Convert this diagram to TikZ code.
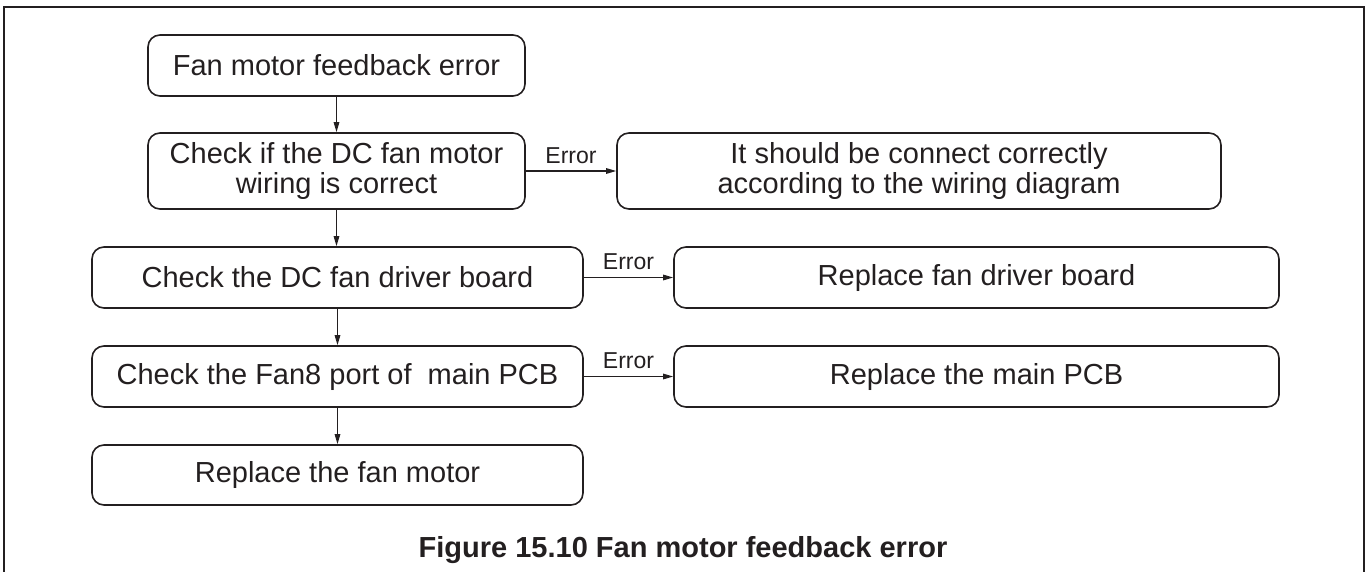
\documentclass[tikz,border=0pt]{standalone}
\usepackage{fontspec}
\setmainfont{Liberation Sans}
\usetikzlibrary{arrows.meta}
\definecolor{ink}{HTML}{231F20}
\begin{document}
\begin{tikzpicture}[x=1pt,y=-1pt,
  box/.style={draw=ink, line width=1.6pt, rounded corners=12pt, align=center,
    inner sep=0pt, text=ink, font=\fontsize{29}{30}\selectfont},
  flow/.style={draw=ink, line width=1.3pt, -{Triangle[length=10pt,width=5.5pt]}},
  lbl/.style={text=ink, font=\fontsize{23}{24}\selectfont, anchor=base, inner sep=0pt},
  captext/.style={text=ink, font=\bfseries\fontsize{29}{30}\selectfont, anchor=base, inner sep=0pt}]
\useasboundingbox (0,0) rectangle (1367,571);
% outer frame (open at bottom)
\coordinate (fbl) at (4,575);
\coordinate (ftl) at (4,7);
\coordinate (ftr) at (1364,7);
\coordinate (fbr) at (1364,575);
\draw[ink, line width=2.2pt] (fbl) -- (ftl) -- (ftr) -- (fbr);
% left column
\node[box, minimum width=377pt, minimum height=61pt] (b1) at (336.5,65.5) {Fan motor feedback error};
\node[box, minimum width=377pt, minimum height=76pt] (b2) at (336.5,171) {Check if the DC fan motor\\wiring is correct};
\node[box, minimum width=491pt, minimum height=61pt] (b3) at (337.5,277.5) {Check the DC fan driver board};
\node[box, minimum width=491pt, minimum height=61pt] (b4) at (337.5,376.5) {Check the Fan8 port of \ main PCB};
\node[box, minimum width=491pt, minimum height=60pt] (b5) at (337.5,475) {Replace the fan motor};
% right column
\node[box, minimum width=604pt, minimum height=76pt] (r2) at (919,171) {It should be connect correctly\\according to the wiring diagram};
\node[box, minimum width=605pt, minimum height=61pt] (r3) at (976.5,277.5) {Replace fan driver board};
\node[box, minimum width=605pt, minimum height=61pt] (r4) at (976.5,376.5) {Replace the main PCB};
% vertical connectors
\draw[flow] (b1.south) -- (b2.north);
\draw[flow] (b2.south) -- (b2.south |- b3.north);
\draw[flow] (b3.south) -- (b4.north);
\draw[flow] (b4.south) -- (b5.north);
% error connectors
\draw[flow] (b2.east) -- node[lbl, yshift=8pt] {Error} (r2.west);
\draw[flow] (b3.east) -- node[lbl, yshift=8pt] {Error} (r3.west);
\draw[flow] (b4.east) -- node[lbl, yshift=8pt] {Error} (r4.west);
% caption
\node[captext] (caption) at (683,557) {Figure 15.10 Fan motor feedback error};
\end{tikzpicture}
\end{document}
